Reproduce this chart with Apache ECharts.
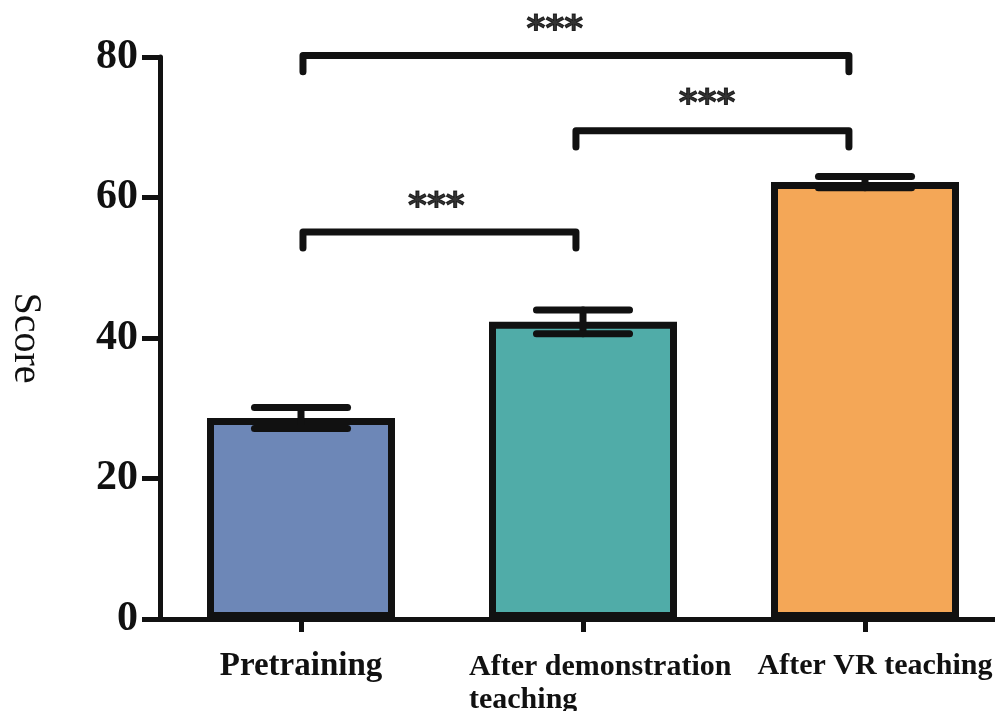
<!DOCTYPE html>
<html>
<head>
<meta charset="utf-8">
<script src="https://cdn.jsdelivr.net/npm/echarts@6/dist/echarts.min.js"></script>
<style>
  html, body { margin: 0; padding: 0; background: #fff; }
  #chart { width: 995px; height: 711px; }
</style>
</head>
<body>
<div id="chart"></div>
<script>
// data
const categories = ['Pretraining', 'After demonstration\nteaching', 'After VR teaching']
const means = [28.6, 42.3, 62.2]
const errors = [1.5, 1.7, 0.8]
const barColors = ['#6d87b7', '#50aca8', '#f4a757']
const yTicks = [0, 20, 40, 60, 80]

// significance brackets, x in category units (0 = first bar), y in score units
const bracketFrom = [0.007, 0.975, 0.007]
const bracketTo = [0.975, 1.943, 1.943]
const bracketY = [55.1, 69.5, 80.2]
const bracketDrop = 2.3
const starX = [0.48, 1.44, 0.9]
const starY = [58.6, 73.2, 83.8]
const starText = ['***', '***', '***']

const ink = '#111'
const serif = '"Liberation Serif", "Times New Roman", serif'

const chart = echarts.init(document.getElementById('chart'))

const bracketSeries = bracketFrom.map(function (x0, i) {
	const x1 = bracketTo[i]
	const y = bracketY[i]
	return {
		type: 'line',
		xAxisIndex: 1,
		yAxisIndex: 0,
		symbol: 'none',
		clip: false,
		silent: true,
		lineStyle: { color: ink, width: 7, cap: 'round', join: 'round' },
		data: [
			[x0, y - bracketDrop],
			[x0, y],
			[x1, y],
			[x1, y - bracketDrop],
		],
	}
})

const labelFont = {
	fontFamily: serif,
	fontWeight: 'bold',
	fontSize: 30,
	lineHeight: 31,
	color: ink,
}

chart.setOption({
	backgroundColor: '#fff',
	animation: false,
	grid: {
		left: 160,
		right: -11,
		top: 57,
		bottom: 92,
		containLabel: false,
		outerBoundsMode: 'none',
	},
	xAxis: [
		{
			type: 'category',
			data: categories,
			axisLine: { lineStyle: { color: ink, width: 5 } },
			axisTick: {
				show: true,
				inside: false,
				alignWithLabel: true,
				length: 13,
				lineStyle: { color: ink, width: 5 },
			},
			axisLabel: Object.assign({}, labelFont, {
				interval: 0,
				hideOverlap: false,
				margin: 32,
				formatter: function (v, i) {
					if (i === 1) {
						return v
							.split('\n')
							.map(function (s) {
								return '{w|' + s + '}'
							})
							.join('\n')
					}
					if (i === 2) return '{v|' + v + '}'
					return '{p|' + v + '}'
				},
				rich: {
					p: Object.assign({}, labelFont, { fontSize: 33 }),
					w: Object.assign({}, labelFont, {
						width: 258,
						lineHeight: 33,
						align: 'left',
						padding: [0, 0, 0, 30],
					}),
					v: Object.assign({}, labelFont, { padding: [0, 0, 0, 20] }),
				},
			}),
		},
		{
			type: 'value',
			min: -0.5,
			max: 2.5,
			show: false,
		},
	],
	yAxis: {
		type: 'value',
		min: yTicks[0],
		max: yTicks[yTicks.length - 1],
		interval: 20,
		name: 'Score',
		nameLocation: 'middle',
		nameRotate: -90,
		nameGap: 115,
		nameTextStyle: {
			color: ink,
			fontFamily: serif,
			fontSize: 40,
		},
		splitLine: { show: false },
		axisLine: { show: true, onZero: false, lineStyle: { color: ink, width: 5 } },
		axisTick: {
			show: true,
			inside: false,
			length: 18,
			lineStyle: { color: ink, width: 5 },
		},
		axisLabel: {
			margin: 22,
			color: ink,
			fontFamily: serif,
			fontWeight: 'bold',
			fontSize: 42,
		},
	},
	series: [
		{
			type: 'bar',
			barWidth: 188,
			data: means.map(function (m, i) {
				return {
					value: m,
					itemStyle: { color: barColors[i] },
				}
			}),
			itemStyle: { borderColor: ink, borderWidth: 7 },
		},
		{
			// error bars drawn above the bars
			type: 'custom',
			z: 3,
			silent: true,
			data: means.map(function (m, i) {
				return [i, m - errors[i], m + errors[i]]
			}),
			renderItem: function (params, api) {
				const lo = api.coord([api.value(0), api.value(1)])
				const hi = api.coord([api.value(0), api.value(2)])
				const half = api.size([1, 0])[0] * 0.165
				const style = { stroke: ink, lineWidth: 7, lineCap: 'round' }
				return {
					type: 'group',
					children: [
						{ type: 'line', shape: { x1: lo[0], y1: lo[1], x2: hi[0], y2: hi[1] }, style: style },
						{ type: 'line', shape: { x1: lo[0] - half, y1: lo[1], x2: lo[0] + half, y2: lo[1] }, style: style },
						{ type: 'line', shape: { x1: hi[0] - half, y1: hi[1], x2: hi[0] + half, y2: hi[1] }, style: style },
					],
				}
			},
		},
	]
		.concat(bracketSeries)
		.concat([
			{
				type: 'scatter',
				xAxisIndex: 1,
				yAxisIndex: 0,
				symbolSize: 0,
				clip: false,
				silent: true,
				data: starX.map(function (x, i) {
					return [x, starY[i], starText[i]]
				}),
				label: {
					show: true,
					position: 'inside',
					formatter: function (p) {
						return p.data[2]
					},
					color: '#000',
					textBorderColor: '#000',
					textBorderWidth: 1,
					fontFamily: '"DejaVu Sans", sans-serif',
					fontWeight: 'bold',
					fontSize: 36,
				},
			},
		]),
})
</script>
</body>
</html>
